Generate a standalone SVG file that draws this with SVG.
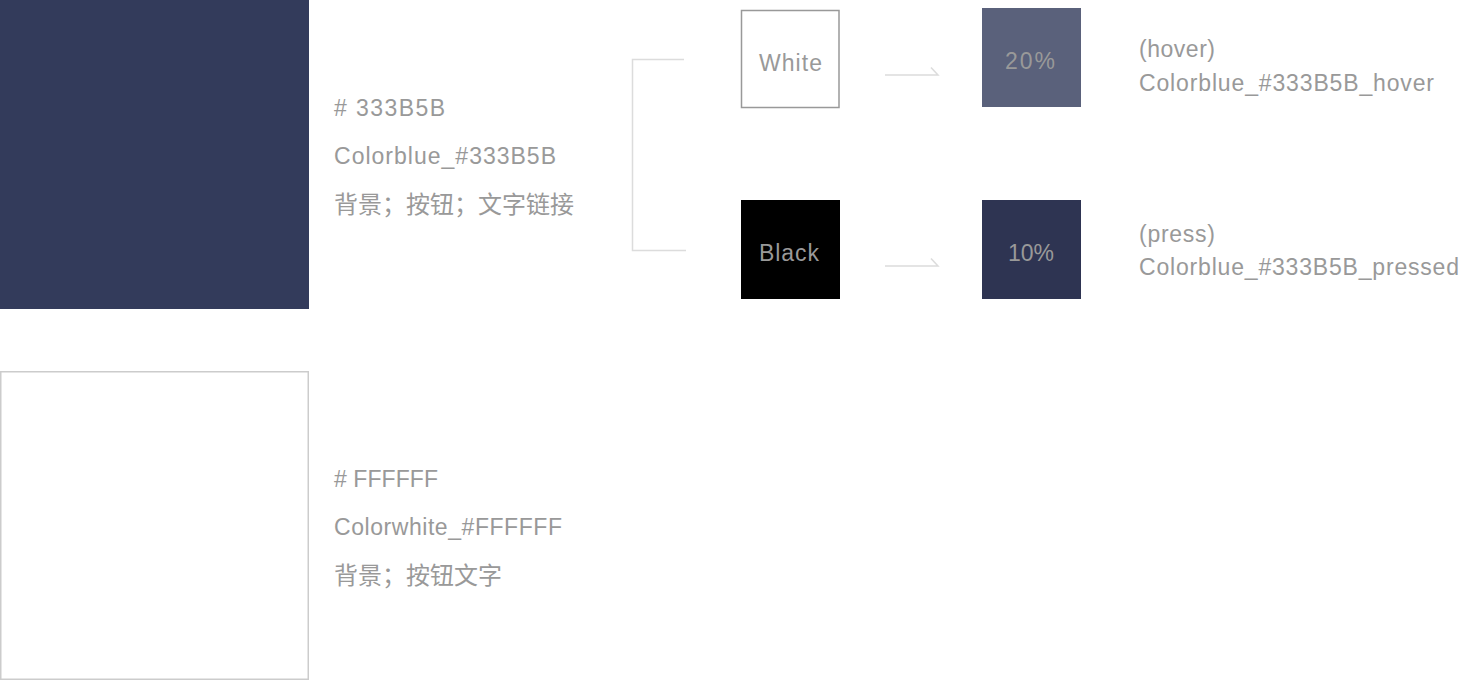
<svg xmlns="http://www.w3.org/2000/svg" width="1460" height="680" viewBox="0 0 1460 680">
<style>
  .t { font-family: "Liberation Sans", "Noto Sans CJK SC", sans-serif; font-size: 23px; fill: #999999; }
  .z { font-family: "Noto Sans CJK SC", sans-serif; font-size: 24px; fill: #999999; }
  .c { text-anchor: middle; }
  .conn { fill: none; stroke: #dcdcdc; stroke-width: 1.5; }
</style>
<rect width="1460" height="680" fill="#ffffff"/>
<g id="swatch-blue">
  <rect x="0" y="0" width="309" height="309" fill="#333B5B"/>
  <text class="t" x="334" y="116" textLength="111" lengthAdjust="spacing">#&#160;333B5B</text>
  <text class="t" x="334" y="164" textLength="222" lengthAdjust="spacing">Colorblue_#333B5B</text>
  <text class="z" x="334" y="213" textLength="240" lengthAdjust="spacing">背景；按钮；文字链接</text>
</g>
<g id="swatch-white">
  <rect x="0.75" y="371.75" width="307.5" height="307.5" fill="#ffffff" stroke="#cccccc" stroke-width="1.5"/>
  <text class="t" x="334" y="487" textLength="104" lengthAdjust="spacing">#&#160;FFFFFF</text>
  <text class="t" x="334" y="535" textLength="228" lengthAdjust="spacing">Colorwhite_#FFFFFF</text>
  <text class="z" x="334" y="584" textLength="168" lengthAdjust="spacing">背景；按钮文字</text>
</g>
<g id="connectors">
  <path class="conn" d="M684 59.5 H632.5 V250.5 H686"/>
  <path class="conn" d="M885 75 H938 L931 67.5"/>
  <path class="conn" d="M885 266 H938 L931 258.5"/>
</g>
<g id="node-white">
  <rect x="741.5" y="10.5" width="97.5" height="97" fill="#ffffff" stroke="#999999" stroke-width="1.5"/>
  <text class="t c" x="790.5" y="71" textLength="63" lengthAdjust="spacing">White</text>
</g>
<g id="node-black">
  <rect x="741" y="200" width="99" height="99" fill="#000000"/>
  <text class="t c" x="789" y="261" textLength="60" lengthAdjust="spacing">Black</text>
</g>
<g id="node-hover">
  <rect x="982" y="8" width="99" height="99" fill="#5A617B"/>
  <text class="t c" x="1030" y="69" textLength="50" lengthAdjust="spacing">20%</text>
</g>
<g id="node-press">
  <rect x="982" y="200" width="99" height="99" fill="#2E3452"/>
  <text class="t c" x="1031" y="261" textLength="46" lengthAdjust="spacing">10%</text>
</g>
<g id="label-hover">
  <text class="t" x="1139" y="57" textLength="76" lengthAdjust="spacing">(hover)</text>
  <text class="t" x="1139" y="91" textLength="295" lengthAdjust="spacing">Colorblue_#333B5B_hover</text>
</g>
<g id="label-press">
  <text class="t" x="1139" y="242" textLength="76" lengthAdjust="spacing">(press)</text>
  <text class="t" x="1139" y="275" textLength="320" lengthAdjust="spacing">Colorblue_#333B5B_pressed</text>
</g>
</svg>
